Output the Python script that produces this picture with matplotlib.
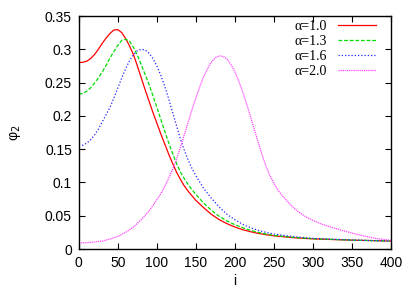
import matplotlib
matplotlib.use("Agg")
import matplotlib.pyplot as plt

# ---- data ----
i_red = [0, 5, 10, 15, 20, 25, 30, 35, 40, 45, 50, 55, 60, 65, 70, 75, 80, 85, 90, 95, 100,
         105, 110, 115, 120, 125, 130, 135, 140, 145, 150, 160, 170, 180, 190, 200, 210, 220,
         230, 240, 250, 275, 300, 350, 400]
phi_red = [0.280, 0.2805, 0.282, 0.286, 0.292, 0.300, 0.309, 0.317, 0.324, 0.329, 0.3295,
           0.325, 0.316, 0.305, 0.292, 0.275, 0.257, 0.239, 0.222, 0.205, 0.189, 0.173, 0.158,
           0.143, 0.129, 0.116, 0.105, 0.095, 0.087, 0.080, 0.073, 0.062, 0.052, 0.044, 0.038,
           0.033, 0.029, 0.026, 0.0235, 0.0215, 0.0198, 0.017, 0.0152, 0.0133, 0.012]

i_green = [0, 5, 10, 15, 20, 25, 30, 35, 40, 45, 50, 55, 60, 65, 70, 75, 80, 85, 90, 95, 100,
           105, 110, 115, 120, 125, 130, 135, 140, 145, 150, 160, 170, 180, 190, 200, 210, 220,
           230, 240, 250, 275, 300, 350, 400]
phi_green = [0.233, 0.2335, 0.237, 0.242, 0.249, 0.257, 0.266, 0.276, 0.287, 0.297, 0.306,
             0.3135, 0.315, 0.312, 0.303, 0.291, 0.277, 0.262, 0.247, 0.230, 0.213, 0.195,
             0.177, 0.160, 0.144, 0.129, 0.116, 0.106, 0.097, 0.089, 0.082, 0.069, 0.058,
             0.049, 0.042, 0.0365, 0.032, 0.028, 0.025, 0.0225, 0.0205, 0.0175, 0.0155,
             0.0133, 0.012]

i_blue = [0, 5, 10, 15, 20, 25, 30, 35, 40, 45, 50, 55, 60, 65, 70, 75, 80, 85, 90, 95, 100,
          105, 110, 115, 120, 125, 130, 135, 140, 145, 150, 160, 170, 180, 190, 200, 210, 220,
          230, 240, 250, 275, 300, 350, 400]
phi_blue = [0.155, 0.156, 0.159, 0.164, 0.171, 0.180, 0.191, 0.202, 0.213, 0.227, 0.242, 0.257,
            0.271, 0.283, 0.292, 0.298, 0.300, 0.299, 0.294, 0.286, 0.275, 0.261, 0.245, 0.226,
            0.206, 0.186, 0.166, 0.149, 0.134, 0.121, 0.110, 0.091, 0.076, 0.063, 0.052, 0.044,
            0.037, 0.032, 0.028, 0.025, 0.0225, 0.0185, 0.016, 0.0135, 0.012]

i_mag = [0, 10, 20, 30, 40, 50, 60, 70, 80, 90, 100, 105, 110, 115, 120, 125, 130, 135, 140,
         145, 150, 155, 160, 165, 170, 175, 180, 185, 190, 195, 200, 205, 210, 215, 220, 225,
         230, 235, 240, 245, 250, 255, 260, 270, 280, 290, 300, 310, 320, 340, 360, 380, 400]
phi_mag = [0.009, 0.0095, 0.0105, 0.012, 0.015, 0.019, 0.025, 0.033, 0.044, 0.057, 0.074,
           0.083, 0.094, 0.106, 0.119, 0.134, 0.152, 0.171, 0.190, 0.209, 0.227, 0.244, 0.259,
           0.271, 0.281, 0.2875, 0.290, 0.2893, 0.285, 0.277, 0.266, 0.252, 0.236, 0.218,
           0.199, 0.179, 0.160, 0.141, 0.124, 0.110, 0.099, 0.089, 0.081, 0.068, 0.057, 0.049,
           0.043, 0.038, 0.034, 0.027, 0.021, 0.016, 0.013]

labels = ["α=1.0", "α=1.3", "α=1.6", "α=2.0"]
x_ticks = [0, 50, 100, 150, 200, 250, 300, 350, 400]
y_ticks = [0, 0.05, 0.1, 0.15, 0.2, 0.25, 0.3, 0.35]
y_ticklabels = ["0", "0.05", "0.1", "0.15", "0.2", "0.25", "0.3", "0.35"]

plt.rcParams['font.family'] = ['Liberation Sans', 'DejaVu Sans']

fig = plt.figure(figsize=(4.15, 2.91), dpi=100)
ax = fig.add_axes([0.190, 0.1443, 0.752, 0.8007])

lw = 0.9
ax.plot(i_red, phi_red, color='#ff0000', lw=lw, linestyle='-', label=labels[0])
ax.plot(i_green, phi_green, color='#00dd00', lw=lw, linestyle=(0, (3, 1.5)), label=labels[1])
ax.plot(i_blue, phi_blue, color='#2222ff', lw=lw, linestyle=(0, (1, 1.6)), label=labels[2])
ax.plot(i_mag, phi_mag, color='#ff44ff', lw=lw, linestyle=(0, (1, 0.7)), label=labels[3])

ax.set_xlim(0, 400)
ax.set_ylim(0, 0.35)
ax.set_xticks(x_ticks)
ax.set_xticklabels([str(v) for v in x_ticks])
ax.set_yticks(y_ticks)
ax.set_yticklabels(y_ticklabels)
ax.tick_params(direction='in', top=True, right=True, length=4, width=0.8,
               labelsize=10, pad=5)
for s in ax.spines.values():
    s.set_linewidth(1.0)

ax.set_xlabel('i', fontsize=10, labelpad=3)
ax.set_ylabel(r'φ$_2$', fontsize=10, labelpad=16)

leg = ax.legend(loc='upper right', bbox_to_anchor=(0.952, 0.985), frameon=False,
                markerfirst=False, handlelength=2.7, handletextpad=0.8,
                labelspacing=0.15, borderaxespad=0.0, borderpad=0.0,
                prop={'family': ['Liberation Serif', 'DejaVu Serif'], 'size': 10})

fig.savefig('out.png', dpi=100)
